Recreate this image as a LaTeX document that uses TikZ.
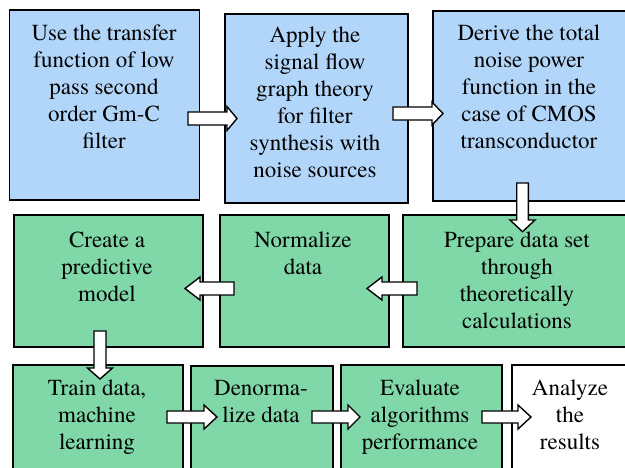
\documentclass[tikz,border=0pt]{standalone}
\usepackage{fontspec}
\setmainfont{TeX Gyre Termes}
\definecolor{boxblue}{RGB}{178,214,250}
\definecolor{boxgreen}{RGB}{128,216,168}
\tikzset{
  box/.style={draw=black, line width=1.7pt, anchor=north west, inner sep=0pt},
  bluebox/.style={box, fill=boxblue},
  greenbox/.style={box, fill=boxgreen},
  whitebox/.style={box, fill=white},
  txt/.style={anchor=north, align=center, inner sep=0pt, font=\fontsize{23}{27}\selectfont},
  barrow/.style={draw=black, fill=white, line width=1.4pt, line join=miter}
}
% horizontal block arrow: start x, head base x, tip x, y, shaft half, head half
\newcommand\barrowH[6]{\draw[barrow] (#1,#4-#5) -- (#2,#4-#5) -- (#2,#4-#6) -- (#3,#4) -- (#2,#4+#6) -- (#2,#4+#5) -- (#1,#4+#5) -- cycle;}
% vertical block arrow: start y, head base y, tip y, x, shaft half, head half
\newcommand\barrowV[6]{\draw[barrow] (#4-#5,#1) -- (#4-#5,#2) -- (#4-#6,#2) -- (#4,#3) -- (#4+#6,#2) -- (#4+#5,#2) -- (#4+#5,#1) -- cycle;}
\begin{document}
\begin{tikzpicture}[x=1pt,y=-1pt]
\useasboundingbox (0,0) rectangle (625,468);
\clip (0,0) rectangle (625,468);
% row 1
\node[bluebox, minimum width=190pt, minimum height=190pt] (b1) at (8.5,9) {};
\node[bluebox, minimum width=183pt, minimum height=189pt] (b2) at (224,13) {};
\node[bluebox, minimum width=210pt, minimum height=190pt] (b3) at (432,10) {};
% row 2
\node[greenbox, minimum width=189pt, minimum height=132pt] (b4) at (13,214) {};
\node[greenbox, minimum width=169pt, minimum height=132pt] (b5) at (219,214) {};
\node[greenbox, minimum width=240pt, minimum height=132pt] (b6) at (402,214) {};
% row 3
\node[greenbox, minimum width=170pt, minimum height=130pt] (b7) at (12,364) {};
\node[greenbox, minimum width=142pt, minimum height=130pt] (b8) at (190,365) {};
\node[greenbox, minimum width=161pt, minimum height=130pt] (b9) at (340,364) {};
\node[whitebox, minimum width=130pt, minimum height=130pt] (b10) at (511,364) {};
% texts
\node[txt] (t1) at (104,21) {\strut Use the transfer\\function of low\\pass second\\order Gm-C\\filter};
\node[txt] (t2) at (315,23) {\strut Apply the\\signal flow\\graph theory\\for filter\\synthesis with\\noise sources};
\node[txt] (t3) at (529,21) {\strut Derive the total\\noise power\\function in the\\case of CMOS\\transconductor};
\node[txt] (t4) at (107,228) {\strut Create a\\predictive\\model};
\node[txt] (t5) at (303,228) {\strut Normalize\\data};
\node[txt] (t6) at (517,228) {\strut Prepare data set\\through\\theoretically\\calculations};
\node[txt] (t7) at (97,376.5) {\strut Train data,\\machine\\learning};
\node[txt] (t8) at (261,376.5) {\strut Denorma-\\lize data};
\node[txt] (t9) at (420,376.5) {\strut Evaluate\\algorithms\\performance};
\node[txt] (t10) at (570,376.5) {\strut Analyze\\the\\results};
% block arrows
\barrowH{188}{227}{237}{118.5}{6.5}{12}
\barrowH{393}{432}{443}{113.5}{6.5}{11.5}
\barrowV{183}{220}{231.7}{522.5}{5.8}{12.5}
\barrowH{417}{382}{367}{288.5}{6.5}{11.5}
\barrowH{234}{200}{185}{288.5}{6.5}{11.5}
\barrowV{331}{368}{379}{100}{6}{12.5}
\barrowH{167}{204}{217}{417}{6}{12}
\barrowH{312}{348}{360}{417}{6}{12}
\barrowH{482}{518}{531}{417}{6}{12}
\end{tikzpicture}
\end{document}
